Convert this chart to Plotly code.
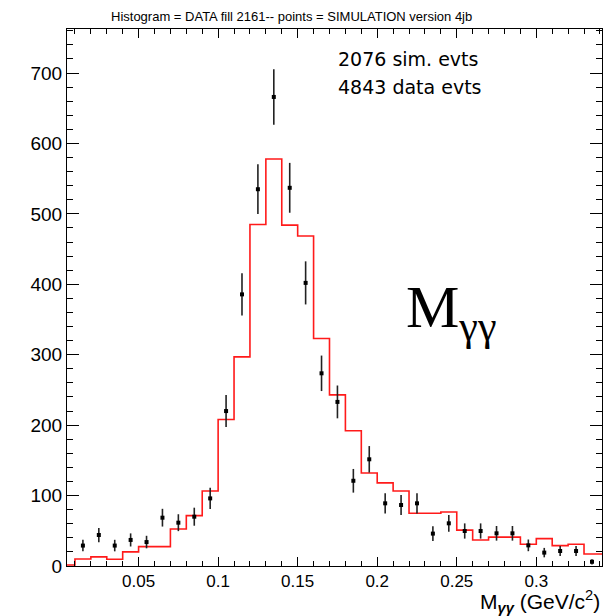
import numpy as np
import plotly.graph_objects as go

# Histogram (DATA) bin edges and contents
bin_edges = [round(0.01 * i, 2) for i in range(36)]
hist_counts = [1.5, 10, 13, 9.5, 20, 27.5, 27.5, 52.5, 71.5, 106.5,
               208, 297, 485, 578, 484, 468.5, 323, 243, 192, 132,
               118, 106.5, 75, 75, 76.7, 51, 37, 41, 41, 30.8,
               38.8, 28.9, 30.8, 17, 17]

# Points (SIMULATION) at bin centres
pt_x = [0.015, 0.025, 0.035, 0.045, 0.055, 0.065, 0.075, 0.085, 0.095, 0.105,
        0.115, 0.125, 0.135, 0.145, 0.155, 0.165, 0.175, 0.185, 0.195, 0.205,
        0.215, 0.225, 0.235, 0.245, 0.255, 0.265, 0.275, 0.285, 0.295, 0.305,
        0.315, 0.325, 0.335]
pt_y = [29, 44, 29, 37, 34, 68.6, 61.5, 70, 96, 220,
        385.7, 535, 666, 537, 402, 273.6, 233, 121, 151.5, 89,
        86.6, 89, 46, 60.6, 49.7, 49.7, 46.4, 46.4, 29.3, 19,
        21.3, 21.3, 6]
pt_err = [8.2, 10.1, 8.2, 9.3, 8.9, 12.6, 12, 12.8, 15, 22.7,
          30, 35.3, 39.4, 35.4, 30.6, 25.2, 23.3, 16.8, 18.8, 14.4,
          14.2, 14.4, 10.4, 11.9, 10.8, 10.8, 10.4, 10.4, 8.3, 6.7,
          7, 7, 3.7]

x_ticks = [0.05, 0.1, 0.15, 0.2, 0.25, 0.3]
y_ticks = [0, 100, 200, 300, 400, 500, 600, 700]

hx = list(bin_edges[:-1]) + [bin_edges[-1]]
hy = list(hist_counts) + [hist_counts[-1]]

fig = go.Figure()
fig.add_trace(go.Scatter(x=hx, y=hy, mode="lines", line=dict(shape="hv", color="#ff1a1a", width=1.6),
                         hoverinfo="skip", showlegend=False))
fig.add_trace(go.Scatter(x=pt_x, y=pt_y, mode="markers",
                         marker=dict(symbol="square", size=4, color="black"),
                         error_y=dict(type="data", array=pt_err, visible=True, width=0, thickness=1.6, color="#222222"),
                         showlegend=False))

L, R, T, B = 67, 3, 29, 50
W, H = 605, 616
pw, ph = W - L - R, H - T - B

def px(xp):
    return (xp - L) / pw

def py(yp):
    return (H - B - yp) / ph

axis_common = dict(showline=True, linecolor="black", linewidth=1, mirror="allticks",
                   ticks="inside", tickcolor="black", showgrid=False, zeroline=False)

fig.update_xaxes(range=[0.005, 0.3413], tickvals=x_ticks, ticklen=9, tickwidth=1,
                 tickfont=dict(family="Liberation Sans, Arial, sans-serif", size=17, color="black"),
                 minor=dict(dtick=0.01, tick0=0, ticks="inside", ticklen=5, tickcolor="black", showgrid=False),
                 **axis_common)
fig.update_yaxes(range=[0, 762.5], tickvals=y_ticks, ticklen=12, tickwidth=1,
                 tickfont=dict(family="Liberation Sans, Arial, sans-serif", size=19, color="black"),
                 minor=dict(dtick=20, tick0=0, ticks="inside", ticklen=6, tickcolor="black", showgrid=False),
                 **axis_common)

fig.update_layout(
    width=W, height=H, margin=dict(l=L, r=R, t=T, b=B),
    paper_bgcolor="white", plot_bgcolor="white",
    annotations=[
        dict(text="Histogram = DATA fill 2161-- points = SIMULATION version 4jb",
             x=px(291.5), y=py(16), xref="paper", yref="paper", showarrow=False,
             xanchor="center", yanchor="middle",
             font=dict(family="Liberation Sans, Arial, sans-serif", size=13, color="black")),
        dict(text="2076 sim. evts", x=px(336), y=py(59), xref="paper", yref="paper", showarrow=False,
             xanchor="left", yanchor="middle",
             font=dict(family="DejaVu Sans, sans-serif", size=19, color="black")),
        dict(text="4843 data evts", x=px(336), y=py(87), xref="paper", yref="paper", showarrow=False,
             xanchor="left", yanchor="middle",
             font=dict(family="DejaVu Sans, sans-serif", size=19, color="black")),
        dict(text="M<sub>γγ</sub>", x=px(404), y=py(312), xref="paper", yref="paper", showarrow=False,
             xanchor="left", yanchor="middle",
             font=dict(family="Liberation Serif, Times New Roman, serif", size=60, color="black")),
        dict(text="M<sub><b><i>γγ</i></b></sub> (GeV/c<sup>2</sup>)", x=1.0, y=py(601.5), xref="paper", yref="paper",
             showarrow=False, xanchor="right", yanchor="middle",
             font=dict(family="Liberation Sans, Arial, sans-serif", size=21, color="black")),
    ],
)

fig.write_html("out.html")
